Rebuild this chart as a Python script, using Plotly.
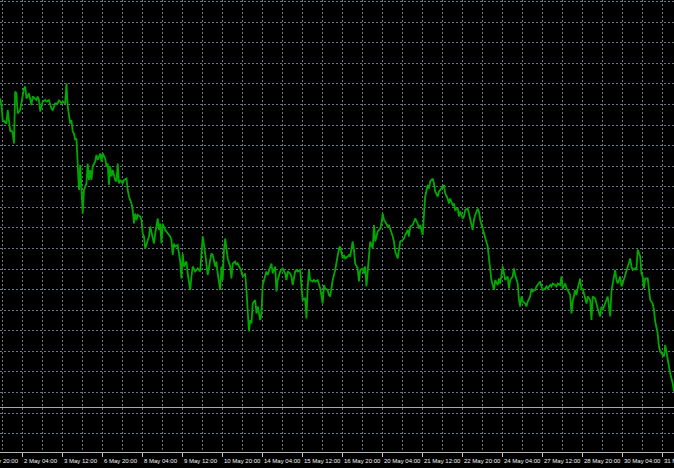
import plotly.graph_objects as go

# ---- data (hourly bar index counted from 30 Apr 20:00, close price) ----
bars = [
    14, 15, 16, 19, 20, 22, 23, 24, 25, 26,
    27, 28, 30, 31, 33, 34, 35, 37, 39, 40,
    43, 44, 45, 46, 48, 50, 51, 53, 55, 56,
    58, 60, 61, 63, 64, 66, 67, 68, 70, 71,
    72, 73, 74, 75, 76, 77, 78, 79, 80, 81,
    83, 84, 85, 86, 87, 88, 90, 91, 92, 94,
    95, 96, 98, 99, 100, 101, 102, 103, 104, 106,
    107, 108, 109, 110, 112, 113, 115, 116, 117, 119,
    120, 121, 122, 123, 124, 126, 127, 128, 129, 130,
    132, 133, 134, 136, 137, 138, 140, 141, 142, 143,
    144, 146, 147, 148, 150, 151, 152, 153, 154, 156,
    157, 158, 159, 160, 161, 163, 164, 165, 166, 167,
    168, 170, 171, 172, 174, 175, 176, 178, 179, 180,
    182, 183, 184, 186, 187, 188, 190, 191, 192, 193,
    194, 195, 196, 198, 199, 200, 202, 203, 204, 206,
    207, 208, 210, 211, 212, 213, 214, 215, 216, 218,
    219, 220, 222, 223, 224, 225, 226, 227, 228, 230,
    231, 232, 234, 235, 236, 238, 239, 240, 242, 243,
    244, 246, 247, 248, 250, 251, 252, 254, 255, 256,
    258, 259, 260, 261, 262, 264, 265, 266, 268, 269,
    270, 272, 273, 274, 276, 277, 278, 279, 280, 282,
    285, 286, 288, 289, 290, 292, 293, 294, 296, 297,
    298, 300, 301, 302, 304, 305, 306, 307, 308, 309,
    310, 312, 313, 314, 315, 316, 318, 319, 320, 321,
    322, 324, 325, 326, 328, 329, 330, 332, 333, 334,
    336, 337, 338, 340, 341, 342, 344, 345, 346, 348,
    349, 350, 352, 353, 354, 356, 357, 358, 360, 361,
    362, 364, 365, 366, 368, 369, 370, 372, 373, 374,
    376, 377, 378, 380, 381, 382, 384, 385, 386, 388,
    389, 390, 392, 393, 394, 396, 397, 398, 400, 401,
    402, 404, 405, 406, 407, 408, 409, 410, 412, 413,
    414, 416, 417, 418, 420, 421, 422, 424, 425, 426,
    428, 429, 430, 431, 432, 434, 435, 436, 438, 439,
    440, 442, 443, 444, 446, 447, 448, 450, 451, 452,
    454, 455, 456, 458, 459, 460, 462, 463, 464, 466,
    467, 468, 470, 471, 472, 474, 475, 476, 478, 479,
    480, 482, 483, 484, 486, 487, 488, 490, 491, 492,
    494, 495, 496, 498, 499, 500, 502, 503, 504, 506,
    507, 508, 510, 511, 512, 514, 515, 516, 518, 519,
    520, 522, 523, 524, 526, 527, 528, 529, 530, 532,
    533, 534, 536, 537, 538, 540, 541, 542, 544, 545,
    546, 548, 549, 550, 552, 553,
]

close = [
    1.3153, 1.3140, 1.3110, 1.3103, 1.3130, 1.3087, 1.3090, 1.3083, 1.3063, 1.3167,
    1.3163, 1.3123, 1.3130, 1.3143, 1.3173, 1.3177, 1.3153, 1.3163, 1.3140, 1.3157,
    1.3150, 1.3157, 1.3150, 1.3127, 1.3147, 1.3150, 1.3147, 1.3150, 1.3133, 1.3130,
    1.3143, 1.3143, 1.3150, 1.3143, 1.3147, 1.3143, 1.3183, 1.3137, 1.3103, 1.3110,
    1.3087, 1.3083, 1.3070, 1.3073, 1.3003, 1.2970, 1.3020, 1.2977, 1.2923, 1.2970,
    1.2983, 1.3023, 1.2990, 1.3010, 1.2990, 1.3017, 1.3027, 1.3040, 1.3030, 1.3043,
    1.3027, 1.3043, 1.3033, 1.3017, 1.3023, 1.2980, 1.3017, 1.2997, 1.3010, 1.2990,
    1.2987, 1.3023, 1.2983, 1.2990, 1.2983, 1.2990, 1.2993, 1.2970, 1.2957, 1.2943,
    1.2930, 1.2903, 1.2923, 1.2910, 1.2920, 1.2917, 1.2910, 1.2883, 1.2877, 1.2853,
    1.2870, 1.2877, 1.2897, 1.2877, 1.2863, 1.2883, 1.2913, 1.2890, 1.2903, 1.2863,
    1.2903, 1.2890, 1.2887, 1.2883, 1.2877, 1.2870, 1.2840, 1.2863, 1.2857, 1.2860,
    1.2843, 1.2827, 1.2793, 1.2843, 1.2817, 1.2827, 1.2803, 1.2790, 1.2770, 1.2797,
    1.2817, 1.2807, 1.2810, 1.2813, 1.2807, 1.2843, 1.2877, 1.2843, 1.2823, 1.2800,
    1.2830, 1.2843, 1.2840, 1.2817, 1.2827, 1.2803, 1.2770, 1.2817, 1.2790, 1.2850,
    1.2873, 1.2853, 1.2833, 1.2817, 1.2793, 1.2823, 1.2827, 1.2820, 1.2823, 1.2813,
    1.2807, 1.2797, 1.2803, 1.2770, 1.2723, 1.2687, 1.2710, 1.2703, 1.2743, 1.2750,
    1.2723, 1.2737, 1.2710, 1.2723, 1.2780, 1.2790, 1.2797, 1.2807, 1.2800, 1.2817,
    1.2823, 1.2803, 1.2817, 1.2767, 1.2790, 1.2807, 1.2810, 1.2813, 1.2803, 1.2790,
    1.2807, 1.2803, 1.2797, 1.2780, 1.2807, 1.2810, 1.2807, 1.2810, 1.2777, 1.2750,
    1.2753, 1.2713, 1.2777, 1.2810, 1.2790, 1.2787, 1.2790, 1.2787, 1.2790, 1.2783,
    1.2773, 1.2743, 1.2780, 1.2773, 1.2770, 1.2760, 1.2757, 1.2773, 1.2790, 1.2810,
    1.2853, 1.2857, 1.2833, 1.2840, 1.2833, 1.2837, 1.2840, 1.2837, 1.2867, 1.2850,
    1.2823, 1.2813, 1.2787, 1.2810, 1.2813, 1.2803, 1.2817, 1.2777, 1.2810, 1.2843,
    1.2867, 1.2853, 1.2900, 1.2867, 1.2877, 1.2887, 1.2893, 1.2903, 1.2923, 1.2910,
    1.2907, 1.2897, 1.2900, 1.2893, 1.2877, 1.2867, 1.2847, 1.2833, 1.2853, 1.2867,
    1.2870, 1.2873, 1.2880, 1.2890, 1.2877, 1.2897, 1.2900, 1.2907, 1.2913, 1.2903,
    1.2893, 1.2900, 1.2880, 1.2920, 1.2957, 1.2980, 1.2973, 1.2987, 1.2993, 1.2983,
    1.2967, 1.2957, 1.2967, 1.2970, 1.2977, 1.2980, 1.2963, 1.2953, 1.2943, 1.2953,
    1.2940, 1.2943, 1.2930, 1.2933, 1.2917, 1.2927, 1.2913, 1.2917, 1.2930, 1.2933,
    1.2923, 1.2910, 1.2890, 1.2910, 1.2920, 1.2933, 1.2927, 1.2910, 1.2893, 1.2887,
    1.2877, 1.2857, 1.2833, 1.2810, 1.2790, 1.2780, 1.2770, 1.2790, 1.2780, 1.2793,
    1.2783, 1.2817, 1.2803, 1.2790, 1.2797, 1.2773, 1.2790, 1.2797, 1.2813, 1.2800,
    1.2783, 1.2750, 1.2737, 1.2757, 1.2747, 1.2743, 1.2737, 1.2747, 1.2757, 1.2773,
    1.2767, 1.2770, 1.2777, 1.2780, 1.2787, 1.2777, 1.2770, 1.2773, 1.2777, 1.2773,
    1.2780, 1.2777, 1.2783, 1.2780, 1.2777, 1.2783, 1.2780, 1.2797, 1.2773, 1.2783,
    1.2773, 1.2770, 1.2760, 1.2723, 1.2747, 1.2770, 1.2760, 1.2773, 1.2793, 1.2770,
    1.2773, 1.2753, 1.2743, 1.2757, 1.2750, 1.2710, 1.2757, 1.2753, 1.2740, 1.2733,
    1.2717, 1.2737, 1.2730, 1.2743, 1.2747, 1.2757, 1.2717, 1.2767, 1.2783, 1.2810,
    1.2790, 1.2783, 1.2797, 1.2777, 1.2783, 1.2800, 1.2807, 1.2817, 1.2833, 1.2817,
    1.2810, 1.2813, 1.2810, 1.2851, 1.2837, 1.2803, 1.2797, 1.2773, 1.2793, 1.2793,
    1.2773, 1.2750, 1.2743, 1.2730, 1.2707, 1.2683, 1.2657, 1.2647, 1.2640, 1.2637,
    1.2660, 1.2630, 1.2610, 1.2603, 1.2583, 1.2567,
]

tick_bars = [0, 32, 64, 96, 128, 160, 192, 224, 256, 288,
             320, 352, 384, 416, 448, 480, 512, 544]
tick_labels = ["30 Apr 20:00", "2 May 04:00", "3 May 12:00", "6 May 20:00",
               "8 May 04:00", "9 May 12:00", "10 May 20:00", "14 May 04:00",
               "15 May 12:00", "16 May 20:00", "20 May 04:00", "21 May 12:00",
               "22 May 20:00", "24 May 04:00", "27 May 12:00", "28 May 20:00",
               "30 May 04:00", "31 May 12:00"]

level_price = 1.2535

# ---- styling / layout ----
W, H = 674, 468
MB = 16
x_range = [13.84, 553.04]
y_range = [1.2446, 1.3350]
grid_color = "#6a7684"
grid_dash = "2px,2px"
px_per_bar = W / (x_range[1] - x_range[0])

fig = go.Figure()
fig.add_trace(go.Scatter(
    x=bars, y=close, mode="lines",
    line=dict(color="#00a800", width=1.8),
    hoverinfo="skip", showlegend=False,
))

fig.add_shape(type="line", xref="paper", x0=0, x1=1, yref="y",
              y0=level_price, y1=level_price,
              line=dict(color="#a9a9a9", width=1))

for b, t in zip(tick_bars, tick_labels):
    xa = max(b, x_range[0])
    fig.add_annotation(
        x=xa, xref="x", y=0, yref="paper",
        xanchor="left", yanchor="top", showarrow=False,
        xshift=(b - xa) * px_per_bar + 0.5, yshift=-5,
        text=t, font=dict(family="Liberation Sans, Arial, sans-serif",
                          size=6, color="#f4f4f4"),
        borderpad=0,
    )

fig.update_layout(
    width=W, height=H,
    margin=dict(l=0, r=0, t=0, b=MB, pad=0, autoexpand=False),
    paper_bgcolor="#000000", plot_bgcolor="#000000",
    showlegend=False, hovermode=False,
    xaxis=dict(
        range=x_range, tickmode="array", tickvals=tick_bars,
        showticklabels=False, ticks="outside", ticklen=4,
        tickcolor="#c8c8c8", tickwidth=1,
        showgrid=True, gridcolor=grid_color, griddash=grid_dash, gridwidth=1,
        minor=dict(tickmode="linear", tick0=16, dtick=32, showgrid=True,
                   gridcolor=grid_color, griddash=grid_dash, gridwidth=1,
                   ticks=""),
        showline=True, linecolor="#b4b4b4", linewidth=1,
        zeroline=False, fixedrange=True,
    ),
    yaxis=dict(
        range=y_range, tickmode="linear", tick0=1.33466, dtick=0.004114,
        showticklabels=False, ticks="",
        showgrid=True, gridcolor=grid_color, griddash=grid_dash, gridwidth=1,
        zeroline=False, showline=False, fixedrange=True,
    ),
)

fig.write_html(
    "out.html",
    config={"displayModeBar": False},
    post_script="document.body.style.margin='0';document.body.style.overflow='hidden';",
)
